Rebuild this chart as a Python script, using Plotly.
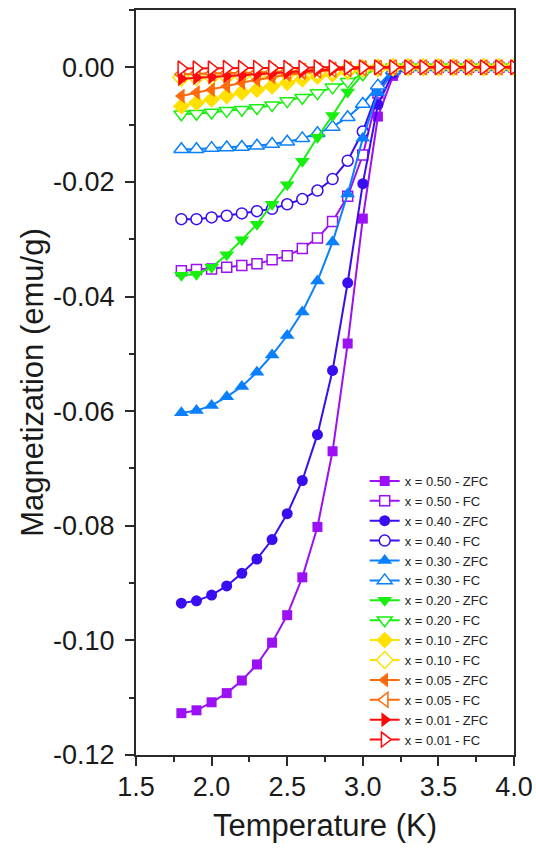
import plotly.graph_objects as go

# Temperature (K)
temperature = [1.8, 1.9, 2.0, 2.1, 2.2, 2.3, 2.4, 2.5, 2.6, 2.7, 2.8, 2.9, 3.0,
               3.1, 3.2, 3.3, 3.4, 3.5, 3.6, 3.7, 3.8, 3.9, 4.0]

# Magnetization (emu/g)
m050_zfc = [-0.1127, -0.1122, -0.1108, -0.1092, -0.1070, -0.1042, -0.1004, -0.0956, -0.0890,
            -0.0802, -0.0670, -0.0482, -0.0264, -0.0086, -0.0015, 0.0, 0.0, 0.0, 0.0, 0.0,
            0.0, 0.0, 0.0]
m050_fc = [-0.0355, -0.0353, -0.0352, -0.0349, -0.0346, -0.0343, -0.0336, -0.0329, -0.0316,
           -0.0298, -0.0269, -0.0225, -0.0153, -0.0045, -0.0008, 0.0, 0.0, 0.0, 0.0, 0.0,
           0.0, 0.0, 0.0]
m040_zfc = [-0.0935, -0.0931, -0.0921, -0.0905, -0.0883, -0.0858, -0.0824, -0.0779, -0.0721,
            -0.0641, -0.0529, -0.0376, -0.0203, -0.0065, -0.0010, 0.0, 0.0, 0.0, 0.0, 0.0,
            0.0, 0.0, 0.0]
m040_fc = [-0.0265, -0.0265, -0.0262, -0.0259, -0.0255, -0.0251, -0.0247, -0.0239, -0.0230,
           -0.0215, -0.0195, -0.0163, -0.0112, -0.0040, -0.0005, 0.0, 0.0, 0.0, 0.0, 0.0,
           0.0, 0.0, 0.0]
m030_zfc = [-0.0603, -0.0599, -0.0590, -0.0575, -0.0557, -0.0532, -0.0502, -0.0468, -0.0427,
            -0.0373, -0.0305, -0.0221, -0.0124, -0.0044, -0.0008, 0.0, 0.0, 0.0, 0.0, 0.0,
            0.0, 0.0, 0.0]
m030_fc = [-0.0143, -0.0143, -0.0141, -0.0140, -0.0139, -0.0137, -0.0134, -0.0130, -0.0124,
           -0.0115, -0.0104, -0.0087, -0.0064, -0.0032, -0.0005, 0.0, 0.0, 0.0, 0.0, 0.0,
           0.0, 0.0, 0.0]
m020_zfc = [-0.0363, -0.0361, -0.0349, -0.0327, -0.0301, -0.0274, -0.0239, -0.0205, -0.0164,
            -0.0122, -0.0084, -0.0043, -0.0012, -0.0003, 0.0, 0.0, 0.0, 0.0, 0.0, 0.0,
            0.0, 0.0, 0.0]
m020_fc = [-0.0082, -0.0081, -0.0079, -0.0076, -0.0074, -0.0071, -0.0066, -0.0059, -0.0053,
           -0.0045, -0.0035, -0.0025, -0.0012, -0.0003, 0.0, 0.0, 0.0, 0.0, 0.0, 0.0,
           0.0, 0.0, 0.0]
m010_zfc = [-0.0068, -0.0062, -0.0056, -0.0050, -0.0044, -0.0039, -0.0033, -0.0027, -0.0021,
            -0.0016, -0.0012, -0.0008, -0.0004, -0.0001, 0.0, 0.0, 0.0, 0.0, 0.0, 0.0,
            0.0, 0.0, 0.0]
m010_fc = [-0.0018, -0.0017, -0.0016, -0.0015, -0.0014, -0.0013, -0.0012, -0.0011, -0.0009,
           -0.0008, -0.0006, -0.0004, -0.0002, -0.0001, 0.0, 0.0, 0.0, 0.0, 0.0, 0.0,
           0.0, 0.0, 0.0]
m005_zfc = [-0.0050, -0.0044, -0.0039, -0.0033, -0.0027, -0.0022, -0.0017, -0.0013, -0.0010,
            -0.0007, -0.0005, -0.0003, -0.0001, 0.0, 0.0, 0.0, 0.0, 0.0, 0.0, 0.0,
            0.0, 0.0, 0.0]
m005_fc = [-0.0012, -0.0011, -0.0011, -0.0010, -0.0010, -0.0009, -0.0008, -0.0007, -0.0006,
           -0.0005, -0.0004, -0.0003, -0.0002, -0.0001, 0.0, 0.0, 0.0, 0.0, 0.0, 0.0,
           0.0, 0.0, 0.0]
m001_zfc = [-0.0020, -0.0018, -0.0017, -0.0015, -0.0014, -0.0012, -0.0011, -0.0009, -0.0007,
            -0.0005, -0.0004, -0.0002, -0.0001, 0.0, 0.0, 0.0, 0.0, 0.0, 0.0, 0.0,
            0.0, 0.0, 0.0]
m001_fc = [-0.0002, -0.0002, -0.0002, -0.0001, -0.0001, -0.0001, -0.0001, -0.0001, -0.0001,
           0.0, 0.0, 0.0, 0.0, 0.0, 0.0, 0.0, 0.0, 0.0, 0.0, 0.0,
           0.0, 0.0, 0.0]

series_names = ["x = 0.50 - ZFC", "x = 0.50 - FC", "x = 0.40 - ZFC", "x = 0.40 - FC",
                "x = 0.30 - ZFC", "x = 0.30 - FC", "x = 0.20 - ZFC", "x = 0.20 - FC",
                "x = 0.10 - ZFC", "x = 0.10 - FC", "x = 0.05 - ZFC", "x = 0.05 - FC",
                "x = 0.01 - ZFC", "x = 0.01 - FC"]
series_values = [m050_zfc, m050_fc, m040_zfc, m040_fc, m030_zfc, m030_fc, m020_zfc, m020_fc,
                 m010_zfc, m010_fc, m005_zfc, m005_fc, m001_zfc, m001_fc]

x_tickvals = [1.5, 2.0, 2.5, 3.0, 3.5, 4.0]
x_ticktext = ["1.5", "2.0", "2.5", "3.0", "3.5", "4.0"]
y_tickvals = [-0.12, -0.10, -0.08, -0.06, -0.04, -0.02, 0.00]
y_ticktext = ["-0.12", "-0.10", "-0.08", "-0.06", "-0.04", "-0.02", "0.00"]

# styles
colors = ["#9B10F5", "#9B10F5", "#3A0CF2", "#3A0CF2", "#0A80FF", "#0A80FF",
          "#17F00F", "#17F00F", "#FFE000", "#FFE000", "#FF6A0A", "#FF6A0A",
          "#FF0A0A", "#FF0A0A"]
symbols = ["square", "square", "circle", "circle", "triangle-up", "triangle-up",
           "triangle-down", "triangle-down", "diamond", "diamond", "triangle-left",
           "triangle-left", "triangle-right", "triangle-right"]
sizes = [10, 10, 11, 11, 13, 13, 13, 13, 13, 13, 13, 13, 13, 13]

FONT = "Arial, 'Liberation Sans', Arimo, sans-serif"

fig = go.Figure()
for i, (name, vals) in enumerate(zip(series_names, series_values)):
    filled = (i % 2 == 0)
    c = colors[i]
    fig.add_trace(go.Scatter(
        x=temperature, y=vals, name=name, mode="lines+markers",
        line=dict(color=c, width=2),
        marker=dict(symbol=symbols[i], size=sizes[i],
                    color=c if filled else "white",
                    line=dict(color=c, width=0 if filled else 1.5)),
    ))

fig.update_layout(
    width=536, height=854,
    margin=dict(l=136, r=22, t=10, b=99, autoexpand=False),
    paper_bgcolor="white", plot_bgcolor="white",
    font=dict(family=FONT, color="#1a1a1a"),
    showlegend=True,
    legend=dict(x=0.605, y=0.388, xanchor="left", yanchor="top",
                bgcolor="rgba(0,0,0,0)", font=dict(size=13, family=FONT, color="#222"),
                tracegroupgap=0),
)

fig.update_xaxes(
    range=[1.5, 4.0], tickvals=x_tickvals, ticktext=x_ticktext,
    showgrid=False, zeroline=False,
    showline=True, linecolor="#2a2a2a", linewidth=2, mirror=True,
    ticks="outside", ticklen=9, tickwidth=2, tickcolor="#2a2a2a",
    minor=dict(dtick=0.25, ticks="outside", ticklen=5, tickwidth=2, tickcolor="#2a2a2a"),
    tickfont=dict(size=27, family=FONT, color="#1a1a1a"),
    ticklabelstandoff=-2,
    title=dict(text="Temperature (K)", font=dict(size=31, family=FONT, color="#1a1a1a"),
               standoff=13),
)
fig.update_yaxes(
    range=[-0.12, 0.01], tickvals=y_tickvals, ticktext=y_ticktext,
    showgrid=False, zeroline=False,
    showline=True, linecolor="#2a2a2a", linewidth=2, mirror=True,
    ticks="outside", ticklen=9, tickwidth=2, tickcolor="#2a2a2a",
    minor=dict(dtick=0.01, ticks="outside", ticklen=5, tickwidth=2, tickcolor="#2a2a2a"),
    tickfont=dict(size=27, family=FONT, color="#1a1a1a"),
    ticklabelstandoff=5,
    title=dict(text="Magnetization (emu/g)", font=dict(size=31, family=FONT, color="#1a1a1a"),
               standoff=0),
)

fig.write_html("out.html", config={"displayModeBar": False},
               post_script="document.body.style.margin='0';")
